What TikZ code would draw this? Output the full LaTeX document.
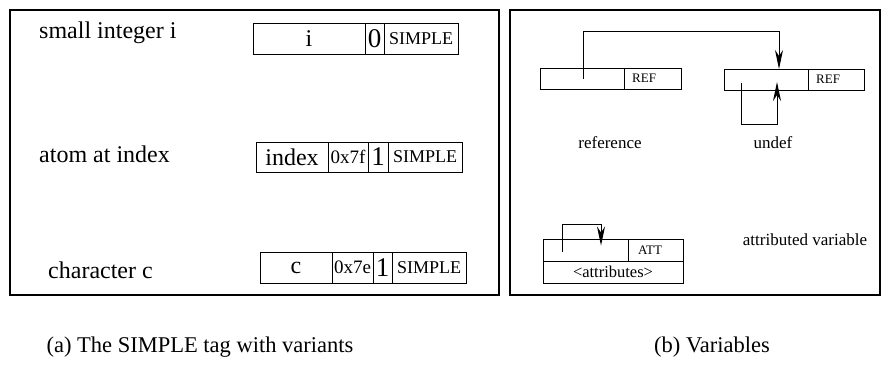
\documentclass[tikz,border=0pt]{standalone}
\usepackage{fontspec}
\setmainfont{Liberation Serif}
\usetikzlibrary{arrows.meta}
\newcommand{\fsz}[1]{\fontsize{#1}{#1}\selectfont}
\tikzset{
  cell/.style={draw, line width=1pt, inner sep=0pt, outer sep=0pt, anchor=center},
  frm/.style={draw, line width=1.3pt},
  lbl/.style={inner sep=0pt, anchor=base west, font=\fsz{24}},
  small/.style={inner sep=0pt, anchor=west, font=\fsz{13}},
  mid/.style={inner sep=0pt, anchor=base, font=\fsz{17}},
  captxt/.style={inner sep=0pt, anchor=base, font=\fsz{22.5}},
  arr/.style={line width=1pt, -{Stealth[length=19pt,width=8pt,inset=6pt]}}
}
\begin{document}
\begin{tikzpicture}[x=1pt,y=-1pt]
\useasboundingbox (0,0) rectangle (882,365);
% frames
\draw[frm] (10,10) rectangle (499,295);
\draw[frm] (510,10) rectangle (880,295);

% left panel labels
\node[lbl] (l1) at (39,38) {small integer i};
\node[lbl] (l2) at (39,162) {atom at index};
\node[lbl] (l3) at (48,278) {character c};

% box 1
\node[cell, minimum width=112, minimum height=31, font=\fsz{24}] (b1a) at (309,38.5) {i};
\node[cell, minimum width=19, minimum height=31, font=\fsz{27}] (b1b) at (374.5,38.5) {0};
\node[cell, minimum width=74, minimum height=31, font=\fsz{18}] (b1c) at (421,38.5) {SIMPLE};

% box 2
\node[cell, minimum width=72, minimum height=30, font=\fsz{24}] (b2a) at (292,157) {index};
\node[cell, minimum width=40, minimum height=30, font=\fsz{19}] (b2b) at (348,157) {0x7f};
\node[cell, minimum width=20, minimum height=30, font=\fsz{27}] (b2c) at (378,157) {1};
\node[cell, minimum width=74, minimum height=30, font=\fsz{18}] (b2d) at (425,157) {SIMPLE};

% box 3
\node[cell, minimum width=72, minimum height=31, font=\fsz{24}] (b3a) at (296,267.5) {c};
\node[cell, minimum width=41, minimum height=31, font=\fsz{19}] (b3b) at (352.5,267.5) {0x7e};
\node[cell, minimum width=19, minimum height=31, font=\fsz{27}] (b3c) at (382.5,267.5) {1};
\node[cell, minimum width=74, minimum height=31, font=\fsz{18}] (b3d) at (429,267.5) {SIMPLE};

% right panel: reference
\node[cell, minimum width=84, minimum height=21] (r1a) at (582,78.5) {};
\node[cell, minimum width=57, minimum height=21] (r1b) at (652.5,78.5) {};
\node[small] (r1t) at ([xshift=8]r1b.west) {REF};

% undef
\node[cell, minimum width=84, minimum height=21] (u1) at (766,79.5) {};
\node[cell, minimum width=56, minimum height=21] (u2) at (836,79.5) {};
\node[small] (u2t) at ([xshift=8]u2.west) {REF};

\node[mid] (reflbl) at (610,148) {reference};
\node[mid] (undeflbl) at (773,148) {undef};

% arrows
\draw[arr] ([xshift=1]r1a.center) -- ++(0,-47.5) -| ([xshift=13]u1.north);
\draw[arr] ([shift={(-25,3.5)}]u1.center) -- ++(0,41) -| ([shift={(11,2.5)}]u1.center);

% attributed variable
\node[cell, minimum width=85, minimum height=22] (a1) at (585.5,250) {};
\node[cell, minimum width=55, minimum height=22] (a2) at (655.5,250) {};
\node[small] (a2t) at ([xshift=10]a2.west) {ATT};
\node[cell, minimum width=140, minimum height=22, font=\fsz{16.5}] (a3) at (613,272) {<attributes>};
\draw[arr] ([shift={(-23.5,1.5)}]a1.center) -- ++(0,-27.5) -| ([shift={(15.5,-4.5)}]a1.center);
\node[mid] (attlbl) at (805,245) {attributed variable};

% captions
\node[captxt] (capa) at (200,352) {(a) The SIMPLE tag with variants};
\node[captxt] (capb) at (712,352) {(b) Variables};
\end{tikzpicture}
\end{document}
